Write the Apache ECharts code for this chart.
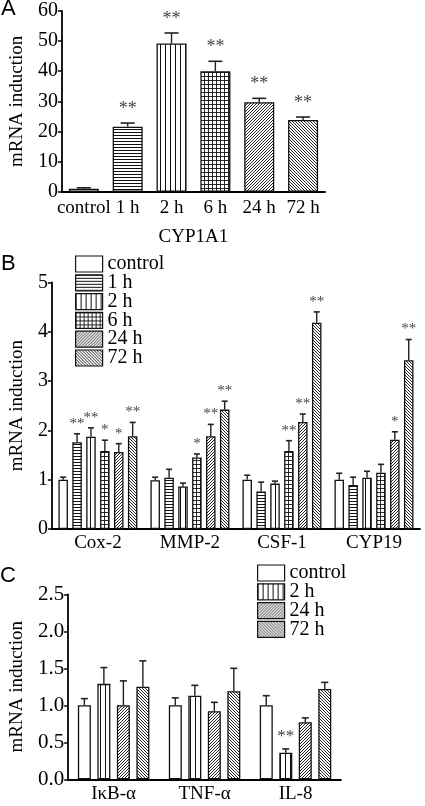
<!DOCTYPE html>
<html><head><meta charset="utf-8">
<script src="https://cdn.jsdelivr.net/npm/echarts@6/dist/echarts.min.js"></script>
<style>html,body{margin:0;padding:0;background:#fff}#c{width:425px;height:806px}</style>
</head><body><div id="c"></div>
<script>
// ---------- DATA ----------
// Panel A (CYP1A1)
const catsA = ['control', '1 h', '2 h', '6 h', '24 h', '72 h'];
const valsA = [1.0, 21.6, 49.2, 40.0, 29.7, 23.8];
const errTopA = [1.3, 22.8, 52.7, 43.3, 31.0, 24.8];
const starsA = ['', '**', '**', '**', '**', '**'];
const ticksA = [0, 10, 20, 30, 40, 50, 60];

// Panel B
const catsB = ['Cox-2', 'MMP-2', 'CSF-1', 'CYP19'];
const namesB = ['control', '1 h', '2 h', '6 h', '24 h', '72 h'];
const valsB_control = [1.00, 0.99, 1.00, 1.00];
const valsB_1h = [1.76, 1.04, 0.76, 0.89];
const valsB_2h = [1.87, 0.86, 0.92, 1.04];
const valsB_6h = [1.58, 1.45, 1.58, 1.14];
const valsB_24h = [1.56, 1.88, 2.17, 1.81];
const valsB_72h = [1.88, 2.42, 4.18, 3.42];
const errB_control = [1.05, 1.05, 1.09, 1.13];
const errB_1h = [1.93, 1.21, 0.95, 1.05];
const errB_2h = [2.05, 0.93, 0.97, 1.17];
const errB_6h = [1.80, 1.52, 1.79, 1.31];
const errB_24h = [1.73, 2.12, 2.33, 1.97];
const errB_72h = [2.16, 2.59, 4.40, 3.84];
const starsB_control = ['', '', '', ''];
const starsB_1h = ['**', '', '', ''];
const starsB_2h = ['**', '', '', ''];
const starsB_6h = ['*', '*', '**', ''];
const starsB_24h = ['*', '**', '**', '*'];
const starsB_72h = ['**', '**', '**', '**'];

// Panel C
const catsC = ['I\u03BAB-\u03B1', 'TNF-\u03B1', 'IL-8'];
const namesC = ['control', '2 h', '24 h', '72 h'];
const valsC_control = [1.00, 1.00, 1.00];
const valsC_2h = [1.29, 1.13, 0.36];
const valsC_24h = [1.00, 0.92, 0.77];
const valsC_72h = [1.25, 1.19, 1.22];
const errC_control = [1.09, 1.10, 1.13];
const errC_2h = [1.51, 1.27, 0.41];
const errC_24h = [1.33, 1.04, 0.83];
const errC_72h = [1.60, 1.50, 1.31];
const starsC_control = ['', '', ''];
const starsC_2h = ['', '', '**'];
const starsC_24h = ['', '', ''];
const starsC_72h = ['', '', ''];

// ---------- PATTERNS ----------
function tile(w, h, lw, draw) {
  const c = document.createElement('canvas');
  c.width = w; c.height = h;
  const g = c.getContext('2d');
  g.fillStyle = '#fff'; g.fillRect(0, 0, w, h);
  g.strokeStyle = '#111'; g.lineWidth = lw;
  draw(g, w, h);
  return { image: c, repeat: 'repeat' };
}
const PAT = {
  'control': '#ffffff',
  '1 h': tile(4, 3, 1, (g, w) => { g.beginPath(); g.moveTo(0, 0.5); g.lineTo(w, 0.5); g.stroke(); }),
  '2 h': tile(5, 4, 1, (g, w, h) => { g.beginPath(); g.moveTo(0.5, 0); g.lineTo(0.5, h); g.stroke(); }),
  '6 h': tile(4, 4, 0.9, (g, w, h) => { g.beginPath(); g.moveTo(0.5, 0); g.lineTo(0.5, h); g.moveTo(0, 0.5); g.lineTo(w, 0.5); g.stroke(); }),
  '24 h': tile(3, 3, 0.9, (g, w, h) => { g.beginPath(); g.moveTo(-1, h + 1); g.lineTo(w + 1, -1); g.moveTo(-1, 1); g.lineTo(1, -1); g.moveTo(w - 1, h + 1); g.lineTo(w + 1, h - 1); g.stroke(); }),
  '72 h': tile(3, 3, 0.9, (g, w, h) => { g.beginPath(); g.moveTo(-1, -1); g.lineTo(w + 1, h + 1); g.moveTo(w - 1, -1); g.lineTo(w + 1, 1); g.moveTo(-1, h - 1); g.lineTo(1, h + 1); g.stroke(); })
};

const SERIF = '"Liberation Serif", "Times New Roman", serif';
const BORDER = { borderColor: '#111', borderWidth: 1.3 };

function errSeries(gi, vals, errs, stars, idx, n, bw, gap, capW, starSize, starOff) {
  return {
    type: 'custom', name: 'err' + gi + '_' + idx, xAxisIndex: gi, yAxisIndex: gi, z: 5, silent: true,
    data: vals.map((v, i) => [i, v, errs[i]]),
    encode: { x: 0, y: [1, 2] },
    renderItem(params, api) {
      const c = api.value(0);
      const p0 = api.coord([c, api.value(1)]);
      const p1 = api.coord([c, api.value(2)]);
      const total = n * bw + (n - 1) * gap;
      const x = p0[0] - total / 2 + idx * (bw + gap) + bw / 2;
      const ch = [
        { type: 'line', shape: { x1: x, y1: p0[1], x2: x, y2: p1[1] }, style: { stroke: '#222', lineWidth: 1.4 } },
        { type: 'line', shape: { x1: x - capW / 2, y1: p1[1], x2: x + capW / 2, y2: p1[1] }, style: { stroke: '#222', lineWidth: 1.6 } }
      ];
      const s = stars[params.dataIndex];
      if (s) ch.push({ type: 'text', style: { text: s, x: x, y: p1[1] - starOff, align: 'center', verticalAlign: 'middle', font: starSize + 'px ' + SERIF, fill: '#444' } });
      return { type: 'group', children: ch };
    }
  };
}

function axisX(gi, cats, name, nameGap, margin) {
  return {
    type: 'category', gridIndex: gi, data: cats,
    axisLine: { lineStyle: { color: '#000', width: 1.8 } },
    axisTick: { alignWithLabel: true, length: 4, lineStyle: { color: '#000', width: 1.5 } },
    axisLabel: { color: '#000', fontFamily: SERIF, fontSize: 19, margin: margin, interval: 0 },
    name: name, nameLocation: 'middle', nameGap: nameGap,
    nameTextStyle: { color: '#000', fontFamily: SERIF, fontSize: 19 }
  };
}
function axisY(gi, max, interval, decimals, nameGap, fs) {
  return {
    type: 'value', gridIndex: gi, min: 0, max: max, interval: interval,
    splitLine: { show: false },
    axisLine: { show: true, lineStyle: { color: '#000', width: 1.8 } },
    axisTick: { show: true, length: 4, lineStyle: { color: '#000', width: 1.5 } },
    axisLabel: { color: '#000', fontFamily: SERIF, fontSize: fs, margin: 4, formatter: v => v.toFixed(decimals) },
    name: 'mRNA induction', nameLocation: 'middle', nameGap: nameGap,
    nameTextStyle: { color: '#000', fontFamily: SERIF, fontSize: 19 }
  };
}

const series = [];
// Panel A
series.push({
  type: 'bar', name: 'CYP1A1', xAxisIndex: 0, yAxisIndex: 0, barWidth: 30,
  data: valsA.map((v, i) => ({ value: v, itemStyle: { color: PAT[catsA[i]] } })),
  itemStyle: BORDER
});
series.push(errSeries(0, valsA, errTopA, starsA, 0, 1, 30, 0, 14, 18, 14));

// Panel B
const bData = [
  [valsB_control, errB_control, starsB_control],
  [valsB_1h, errB_1h, starsB_1h],
  [valsB_2h, errB_2h, starsB_2h],
  [valsB_6h, errB_6h, starsB_6h],
  [valsB_24h, errB_24h, starsB_24h],
  [valsB_72h, errB_72h, starsB_72h]
];
const bwB = 9.5, gapB = 4.4;
bData.forEach((d, i) => {
  series.push({ type: 'bar', name: namesB[i], xAxisIndex: 1, yAxisIndex: 1, barWidth: bwB, barGap: (gapB / bwB * 100) + '%', data: d[0], itemStyle: Object.assign({ color: PAT[namesB[i]] }, BORDER) });
});
bData.forEach((d, i) => series.push(errSeries(1, d[0], d[1], d[2], i, 6, bwB, gapB, 6, 15, 10)));

// Panel C
const cData = [
  [valsC_control, errC_control, starsC_control],
  [valsC_2h, errC_2h, starsC_2h],
  [valsC_24h, errC_24h, starsC_24h],
  [valsC_72h, errC_72h, starsC_72h]
];
const bwC = 13, gapC = 6.5;
cData.forEach((d, i) => {
  series.push({ type: 'bar', name: namesC[i], xAxisIndex: 2, yAxisIndex: 2, barWidth: bwC, barGap: (gapC / bwC * 100) + '%', data: d[0], itemStyle: Object.assign({ color: PAT[namesC[i]] }, BORDER) });
});
cData.forEach((d, i) => series.push(errSeries(2, d[0], d[1], d[2], i, 4, bwC, gapC, 7, 17, 12)));

const legendCommon = {
  orient: 'vertical', itemWidth: 27, itemHeight: 16, itemGap: -1.2, icon: 'rect', padding: 0, selectedMode: false,
  textStyle: { fontFamily: SERIF, fontSize: 20, color: '#000' },
  itemStyle: { borderColor: '#111', borderWidth: 1.2 }
};

const option = {
  animation: false,
  backgroundColor: '#fff',
  grid: [
    { left: 54, top: 11, width: 271, height: 180.7 },
    { left: 50, top: 282.3, width: 370, height: 246.7 },
    { left: 61, top: 594.3, width: 280, height: 185 }
  ],
  xAxis: [axisX(0, catsA, 'CYP1A1', 36, 7), axisX(1, catsB, '', 0, 5), axisX(2, catsC, '', 0, 5)],
  yAxis: [axisY(0, ticksA[ticksA.length - 1], 10, 0, 33, 20), axisY(1, 5, 1, 0, 23, 20), axisY(2, 2.5, 0.5, 1, 34, 21)],
  legend: [
    Object.assign({ data: namesB, left: 75, top: 254 }, legendCommon),
    Object.assign({ data: namesC, left: 257, top: 563 }, legendCommon)
  ],
  graphic: [
    { type: 'text', left: 1, top: -2, style: { text: 'A', font: '22px "Liberation Sans", Arial, sans-serif', fill: '#000' } },
    { type: 'text', left: 1, top: 253, style: { text: 'B', font: '22px "Liberation Sans", Arial, sans-serif', fill: '#000' } },
    { type: 'text', left: 0, top: 565, style: { text: 'C', font: '22px "Liberation Sans", Arial, sans-serif', fill: '#000' } }
  ],
  series: series
};
const chart = echarts.init(document.getElementById('c'), null, { renderer: 'canvas' });
chart.setOption(option);
</script>
</body></html>
